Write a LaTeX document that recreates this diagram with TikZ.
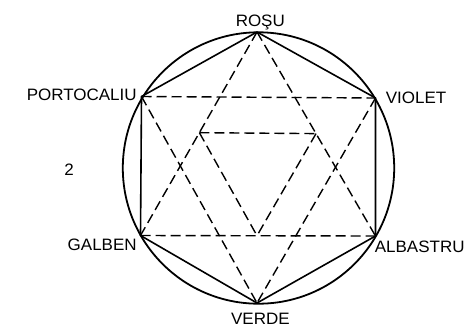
\documentclass[tikz,border=0pt]{standalone}
\usepackage{fontspec}
\setmainfont{Liberation Sans}
\usetikzlibrary{calc}
\begin{document}
\begin{tikzpicture}[x=1pt,y=-1pt,
  lab/.style={anchor=base,inner sep=0pt,font=\fontsize{16.5}{18}\selectfont\addfontfeatures{FakeStretch=1.03}},
  solidline/.style={line width=1.6pt,line join=round},
  dashline/.style={line width=1.4pt,dash pattern=on 10pt off 5pt},
  ring/.style={line width=1.8pt}]
\useasboundingbox (0,0) rectangle (470,327);
% vertices
\coordinate (R) at (257,32);
\coordinate (P) at (141.5,96.5);
\coordinate (V) at (375.5,98);
\coordinate (G) at (140.5,235.5);
\coordinate (A) at (375.5,236);
\coordinate (D) at (257,303);
\coordinate (B) at (257,235.7);
\coordinate (Bl) at ($(B)+(P)-(D)$);
\coordinate (Br) at ($(B)+(V)-(D)$);
\coordinate (L) at (intersection of R--G and B--Bl);
\coordinate (Rr) at (intersection of R--A and B--Br);
\coordinate (O) at (258.5,168);
% circle
\draw[ring] (O) circle (135.7);
% hexagon
\draw[solidline] (R) -- (V) -- (A) -- (D) -- (G) -- (P) -- cycle;
% dashed lines
\draw[dashline] (P) -- (V);
\draw[dashline] (G) -- (A);
\draw[dashline] (R) -- (G);
\draw[dashline] (R) -- (A);
\draw[dashline] (P) -- (D);
\draw[dashline] (V) -- (D);
\draw[dashline] (L) -- (Rr);
\draw[dashline] (L) -- (B);
\draw[dashline] (Rr) -- (B);
% labels
\node[lab] (tR) at (260.3,26.7) {ROŞU};
\node[lab] (tP) at (81.7,100.7) {PORTOCALIU};
\node[lab] (tV) at (416,103.3) {VIOLET};
\node[lab] (tG) at (102.2,250.7) {GALBEN};
\node[lab] (tA) at (419.7,252.7) {ALBASTRU};
\node[lab] (tD) at (260.4,324) {VERDE};
\node[lab] (t2) at (69,175) {2};
\end{tikzpicture}
\end{document}
